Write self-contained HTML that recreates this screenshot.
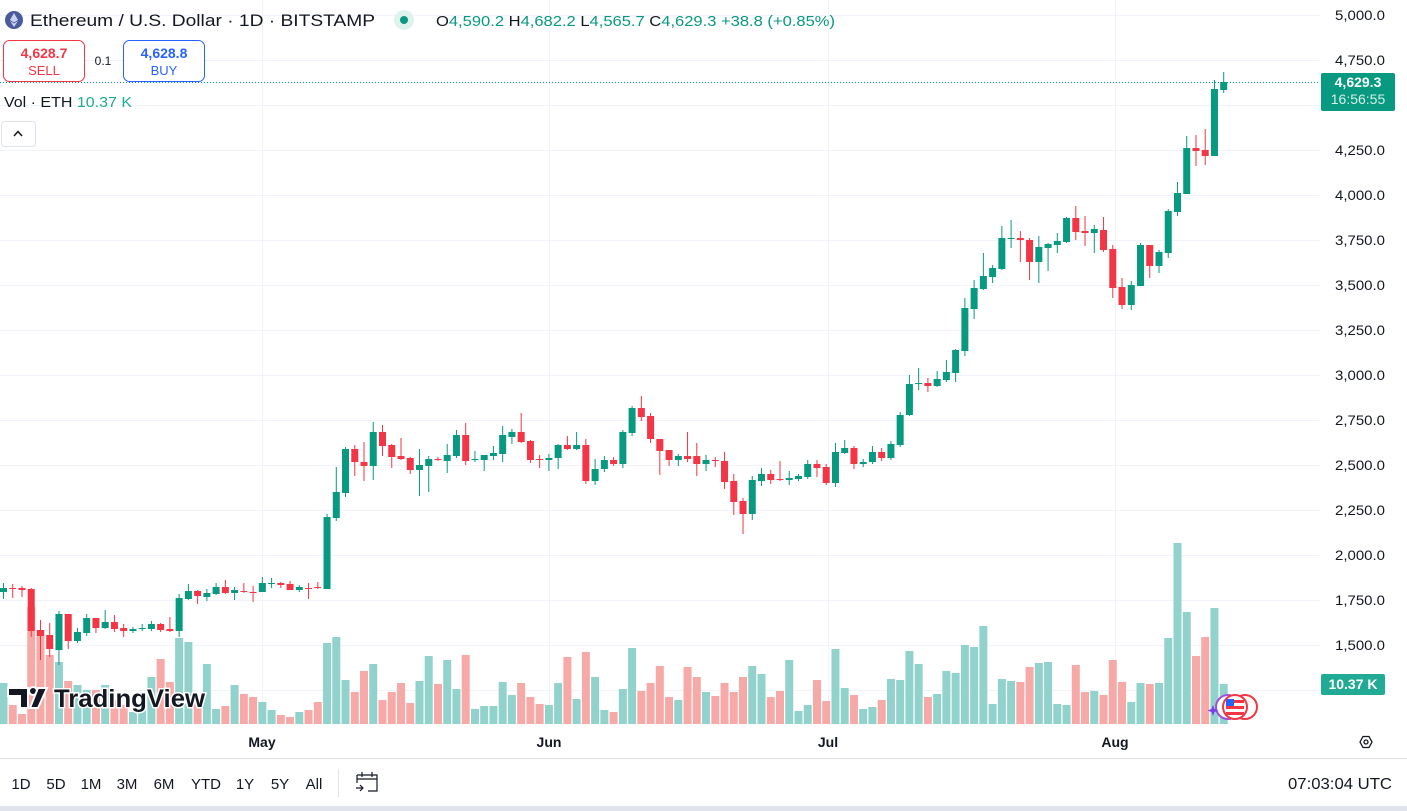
<!DOCTYPE html>
<html><head><meta charset="utf-8"><style>
html,body{margin:0;padding:0;background:#fff;width:1407px;height:811px;overflow:hidden;font-family:"Liberation Sans",sans-serif;}
</style></head><body>
<svg id="s" width="1407" height="811" xmlns="http://www.w3.org/2000/svg" style="position:absolute;left:0;top:0;font-family:'Liberation Sans',sans-serif">
<rect width="1407" height="811" fill="#fff"/>
<g id="grid" stroke="#f0f3fa" stroke-width="1"></g>
<g id="vol"></g>
<g id="cand"></g>
<line x1="0" y1="82.5" x2="1320" y2="82.5" stroke="#089981" stroke-dasharray="1,2"/>
<g id="axis" font-size="14" fill="#131722" text-anchor="end"></g>
<!-- price tag -->
<rect x="1321" y="73" width="74" height="38" rx="2" fill="#089981"/>
<text x="1358" y="87" font-size="14" fill="#fff" text-anchor="middle" font-weight="bold">4,629.3</text>
<text x="1358" y="104" font-size="14" fill="#d6f0ea" text-anchor="middle">16:56:55</text>
<rect x="1321" y="674" width="64" height="21" rx="2" fill="#22ab94"/>
<text x="1353" y="689" font-size="14" fill="#fff" text-anchor="middle" font-weight="bold">10.37 K</text>
<!-- header -->
<circle cx="14" cy="20" r="9" fill="#4a5a9a"/>
<path d="M14 13 L18 20 L14 22.5 L10 20Z M14 23.5 L18 21 L14 27 L10 21Z" fill="#c9d2f2"/>
<text x="30" y="26" font-size="17" fill="#131722" textLength="345" lengthAdjust="spacingAndGlyphs">Ethereum / U.S. Dollar · 1D · BITSTAMP</text>
<circle cx="404" cy="20" r="10" fill="#dff2ee"/><circle cx="404" cy="20" r="4" fill="#089981"/>
<text x="436" y="26" font-size="15" fill="#089981" textLength="399" lengthAdjust="spacingAndGlyphs"><tspan fill="#131722">O</tspan>4,590.2 <tspan fill="#131722">H</tspan>4,682.2 <tspan fill="#131722">L</tspan>4,565.7 <tspan fill="#131722">C</tspan>4,629.3 +38.8 (+0.85%)</text>
<rect x="3.5" y="40.5" width="81" height="41" rx="6" fill="#fff" stroke="#f23645"/>
<text x="44" y="58" font-size="14" fill="#f23645" text-anchor="middle" font-weight="bold">4,628.7</text>
<text x="44" y="75" font-size="13" fill="#f23645" text-anchor="middle">SELL</text>
<text x="103" y="65" font-size="12" fill="#131722" text-anchor="middle">0.1</text>
<rect x="123.5" y="40.5" width="81" height="41" rx="6" fill="#fff" stroke="#2962ff"/>
<text x="164" y="58" font-size="14" fill="#2962ff" text-anchor="middle" font-weight="bold">4,628.8</text>
<text x="164" y="75" font-size="13" fill="#2962ff" text-anchor="middle">BUY</text>
<text x="4" y="107" font-size="15" fill="#131722" textLength="128" lengthAdjust="spacingAndGlyphs">Vol · ETH <tspan fill="#22ab94">10.37 K</tspan></text>
<rect x="1.5" y="121.5" width="34" height="25" rx="3" fill="#fff" stroke="#e0e3eb"/>
<path d="M14 136 L18 131.5 L22 136" fill="none" stroke="#131722" stroke-width="1.5"/>
<!-- TV logo -->
<g>
<path d="M8 688 h20 v20 h-8 v-12 h-12z" fill="#131722" stroke="#fff" stroke-width="2"/>
<circle cx="33" cy="691" r="4" fill="#131722" stroke="#fff" stroke-width="2"/>
<path d="M38 688 h9 l-9 20 h-8z" fill="#131722" stroke="#fff" stroke-width="2"/>
<text x="54" y="707" font-size="25" font-weight="bold" fill="#131722" stroke="#fff" stroke-width="3" paint-order="stroke" textLength="151" lengthAdjust="spacingAndGlyphs">TradingView</text>
</g>
<!-- flags -->
<circle cx="1228" cy="707" r="12" fill="#fff" stroke="#9b51e0" stroke-width="2"/>
<circle cx="1245" cy="707" r="12" fill="#fff" stroke="#f23645" stroke-width="2"/>
<circle cx="1235" cy="707" r="12" fill="#fff" stroke="#f23645" stroke-width="2"/>
<rect x="1226" y="700" width="18" height="3" fill="#f23645"/><rect x="1226" y="706" width="18" height="3" fill="#f23645"/><rect x="1226" y="712" width="18" height="3" fill="#f23645"/>
<rect x="1226" y="699" width="8" height="7" fill="#2962ff"/>
<path d="M1213 705 l1.5 4 4 1.5 -4 1.5 -1.5 4 -1.5 -4 -4 -1.5 4 -1.5z" fill="#7b3fe4"/>
<!-- time axis -->
<g font-size="14" fill="#131722" text-anchor="middle" font-weight="bold">
<text x="262" y="747">May</text><text x="549" y="747">Jun</text><text x="828" y="747">Jul</text><text x="1115" y="747">Aug</text>
</g>
<path d="M1360 742 l3 -5.5 h6 l3 5.5 -3 5.5 h-6z" fill="none" stroke="#131722" stroke-width="1.3"/>
<circle cx="1366" cy="742" r="2" fill="none" stroke="#131722" stroke-width="1.3"/>
<line x1="0" y1="758.5" x2="1407" y2="758.5" stroke="#e0e3eb"/>
<g font-size="15" fill="#131722" text-anchor="middle">
<text x="21" y="789">1D</text><text x="56" y="789">5D</text><text x="91" y="789">1M</text><text x="127" y="789">3M</text><text x="164" y="789">6M</text><text x="206" y="789">YTD</text><text x="245" y="789">1Y</text><text x="280" y="789">5Y</text><text x="314" y="789">All</text>
</g>
<line x1="338.5" y1="769" x2="338.5" y2="797" stroke="#e0e3eb"/>
<path d="M357 775 h20 v16 h-9 M357 775 v8 M357 779 h20 M362 772 v5 M372 772 v5 M356 788 h7 M360 785 l3 3 -3 3" fill="none" stroke="#131722" stroke-width="1.2"/>
<text x="1288" y="789" font-size="16" fill="#131722" textLength="104" lengthAdjust="spacingAndGlyphs">07:03:04 UTC</text>
<rect x="0" y="806" width="1407" height="5" fill="#e0e3eb"/>
</svg>
<script>
var D=[
[1,588,592,583,599,683],[0,588,589,584,598,705],[0,588,590,586,597,714],[0,589,631,588,637,607],[0,630,636,620,660,630],[0,635,649,623,657,655],[1,614,650,611,665,662],[0,614,641,614,649,681],[1,632,641,628,643,685],[1,618,633,614,636,690],
[0,618,628,618,633,690],[1,622,628,610,629,685],[0,622,629,615,632,700],[0,628,631,624,637,705],[1,629,631,627,633,712],[1,628,629,624,631,706],[1,624,629,621,631,677],[0,624,630,623,632,659],[0,629,631,617,632,682],[1,598,631,594,637,638],
[1,591,599,584,600,642],[0,591,596,590,604,700],[1,593,597,589,601,664],[1,587,594,583,595,709],[0,587,593,580,594,706],[1,590,593,587,600,685],[0,591,592,583,593,694],[0,592,593,586,602,697],[1,583,592,577,592,702],[1,583,584,578,588,710],
[0,583,585,582,588,715],[0,584,590,581,590,717],[1,587,590,585,592,712],[0,588,589,583,599,710],[0,587,588,582,589,702],[1,517,589,514,589,643],[1,492,518,467,521,637],[1,449,493,447,497,680],[0,449,462,445,476,692],[0,462,466,442,481,671],
[1,432,466,422,480,664],[0,432,446,425,456,700],[0,445,457,444,468,692],[0,456,459,438,460,683],[0,458,470,457,474,703],[1,465,470,449,496,681],[1,459,466,456,492,656],[0,459,460,457,461,684],[1,455,461,444,473,660],[1,435,456,430,458,689],
[0,435,461,423,465,655],[1,459,460,451,462,709],[1,455,460,455,471,706],[1,453,456,446,460,706],[1,435,454,426,462,682],[1,432,437,429,444,695],[0,432,442,413,443,683],[0,441,460,440,463,697],[0,459,460,455,468,704],[1,458,460,454,471,705],
[1,445,458,444,469,683],[0,445,449,436,450,657],[1,445,449,432,450,699],[0,445,481,439,484,652],[1,469,481,459,485,677],[1,460,469,456,472,710],[0,460,464,457,466,712],[1,432,464,430,468,689],[1,408,433,406,436,648],[0,408,417,396,421,691],
[0,416,439,413,443,683],[0,439,451,439,475,666],[0,450,460,450,466,697],[1,456,460,454,466,700],[0,456,459,432,462,667],[0,456,464,443,476,677],[1,460,464,455,471,692],[0,460,461,457,467,696],[0,461,482,452,489,683],[0,481,502,474,515,692],
[0,501,514,498,534,677],[1,480,514,476,520,666],[1,474,481,468,486,674],[0,474,480,470,484,697],[0,479,480,461,481,691],[1,478,480,471,485,660],[1,476,479,474,481,711],[1,464,477,460,479,705],[0,464,468,460,477,680],[0,467,483,464,485,701],
[1,452,483,443,487,649],[1,448,453,440,454,688],[0,448,464,446,469,695],[1,462,464,459,467,709],[1,452,462,446,464,707],[0,452,458,448,461,700],[1,444,458,441,460,679],[1,415,445,412,447,680],[1,384,415,375,416,651],[1,383,384,368,390,664],
[0,383,386,378,392,697],[1,379,386,371,387,694],[1,372,380,360,382,671],[1,350,373,349,382,673],[1,308,351,298,356,645],[1,288,309,280,319,647],[1,276,289,253,290,626],[1,268,277,265,283,704],[1,238,269,226,270,679],[1,238,239,220,248,681],
[0,238,240,231,262,682],[0,240,262,238,280,667],[1,247,262,236,283,663],[1,244,248,243,271,662],[1,241,245,233,253,704],[1,218,242,217,243,705],[0,218,232,206,240,665],[0,231,233,216,246,692],[1,229,233,225,253,691],[0,230,250,217,252,695],
[0,249,288,245,298,660],[0,287,305,278,309,682],[1,285,305,281,310,702],[1,245,286,243,286,683],[0,245,266,245,278,684],[1,252,266,250,273,683],[1,211,253,209,258,638],[1,193,212,182,216,543],[1,148,194,136,194,612],[0,148,151,135,166,656],
[0,150,156,129,165,637],[1,89,156,80,156,608],[1,82,90,72,93,684]];
var NS="http://www.w3.org/2000/svg";
function el(p,t,a){var e=document.createElementNS(NS,t);for(var k in a)e.setAttribute(k,a[k]);document.getElementById(p).appendChild(e);return e;}
var labels=["5,000.0","4,750.0","4,500.0","4,250.0","4,000.0","3,750.0","3,500.0","3,250.0","3,000.0","2,750.0","2,500.0","2,250.0","2,000.0","1,750.0","1,500.0","1,250.0"];
for(var i=0;i<labels.length;i++){var y=15+45*i;el("grid","line",{x1:0,x2:1320,y1:y+0.5,y2:y+0.5});
 if(i!=2&&i!=15){var t=el("axis","text",{x:1385,y:y+5,textLength:50,lengthAdjust:"spacingAndGlyphs"});t.textContent=labels[i];}}
[262,549,828,1115].forEach(function(x){el("grid","line",{x1:x+0.5,x2:x+0.5,y1:0,y2:724});});
for(var i=0;i<D.length;i++){var d=D[i],x=3.5+9.244*i,c=d[0]?"#089981":"#f23645",vc=d[0]?"#92d2cc":"#f7a9a7";
 el("vol","rect",{x:x-4,y:d[5],width:8,height:724-d[5],fill:vc});
 el("cand","rect",{x:x-0.5,y:d[3],width:1,height:d[4]-d[3],fill:c});
 el("cand","rect",{x:x-3.5,y:d[1],width:7,height:Math.max(1,d[2]-d[1]),fill:c});}
</script>
</body></html>
